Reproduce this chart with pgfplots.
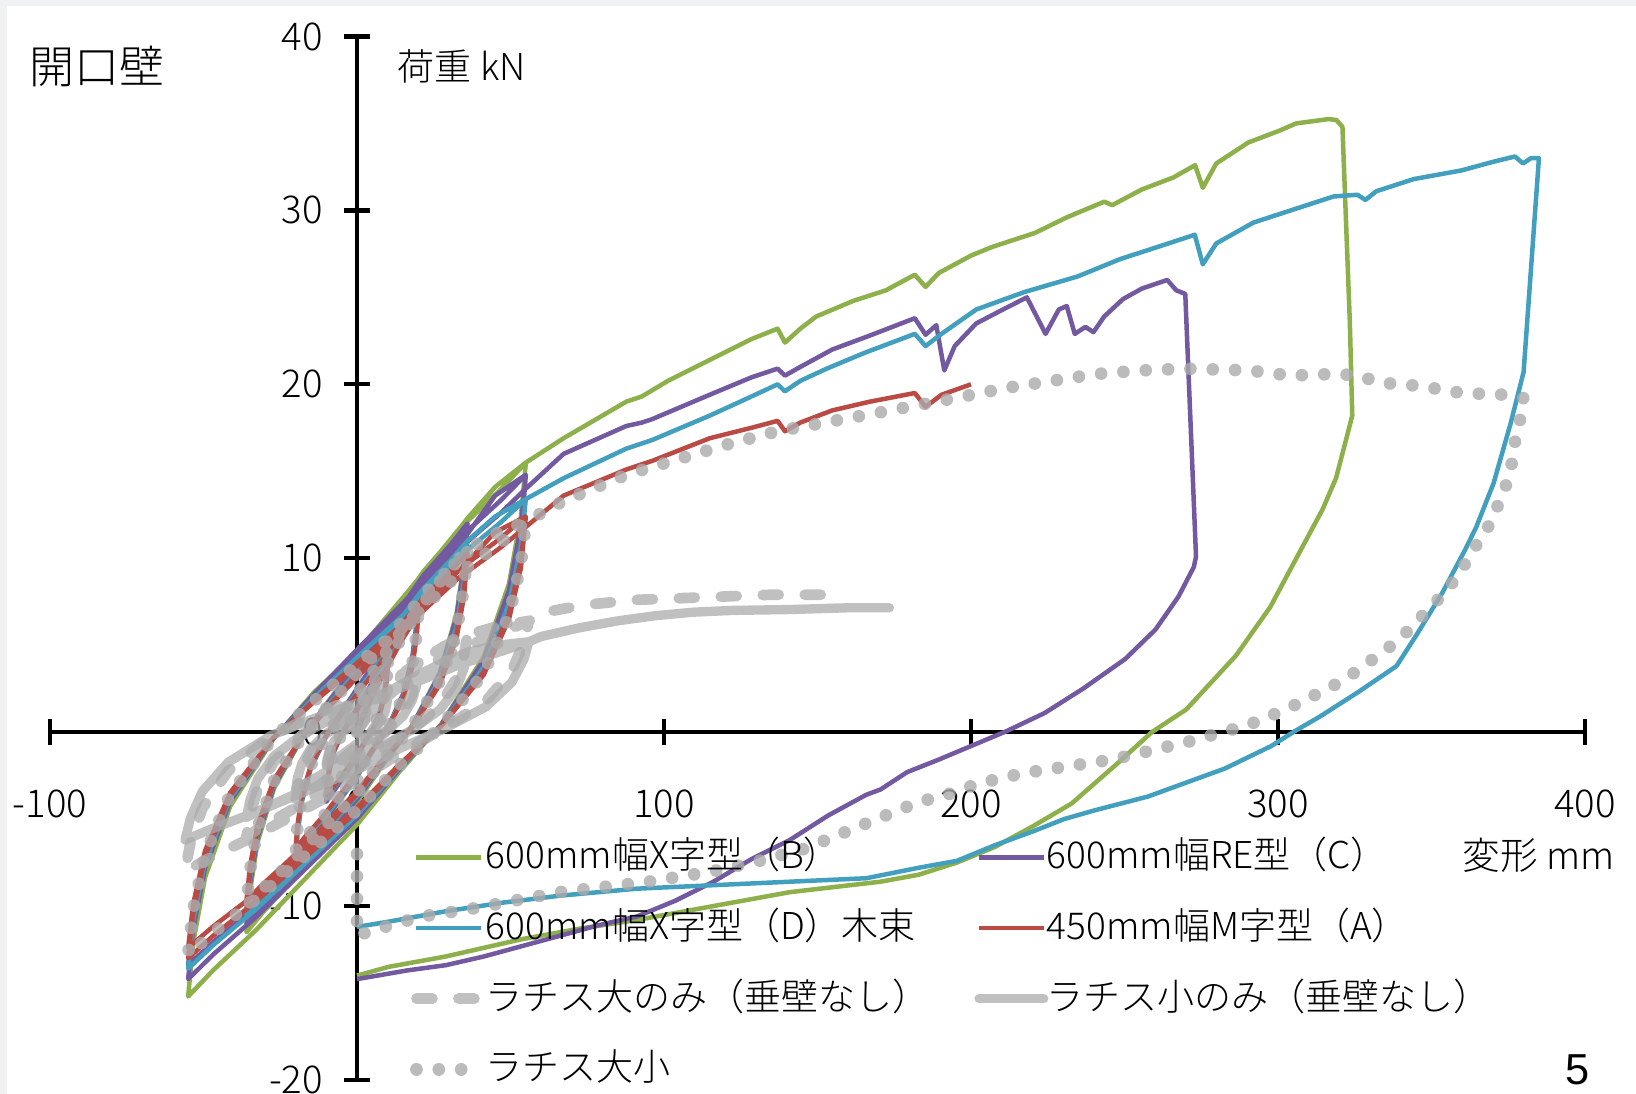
\documentclass[border=0pt]{standalone}
\usepackage{fontspec}
\setmainfont{Noto Sans CJK JP Light}
\newfontfamily\arialfont{Liberation Sans}
\usepackage{pgfplots}
\pgfplotsset{compat=1.18}
\definecolor{cB}{HTML}{8DB04A}
\definecolor{cC}{HTML}{7359A0}
\definecolor{cD}{HTML}{42A0BE}
\definecolor{cA}{HTML}{BA4A44}
\definecolor{cG}{HTML}{ABABAB}
\definecolor{bgframe}{HTML}{F0F1F3}
\begin{document}
\begin{tikzpicture}[x=1pt,y=1pt]
\path[use as bounding box] (-15,-4.2) rectangle (475.8,324);
\fill[bgframe] (-15,-4.2) rectangle (475.8,324);
\fill[white] (-12.9,-4.2) rectangle (475.8,322.2);
\begin{axis}[
  at={(0,0)}, anchor=south west, scale only axis,
  width=460.5pt, height=313.05pt,
  xmin=-100, xmax=400, ymin=-20, ymax=40,
  axis lines=middle,
  axis line style={-, line width=1.4pt, black},
  every inner x axis line/.append style={-},
  every inner y axis line/.append style={-},
  xtick={-100,0,100,200,300,400}, ytick={-20,-10,0,10,20,30,40},
  hide obscured x ticks=false, hide obscured y ticks=false,
  tick align=center, major tick length=7.8pt,
  tick style={line width=1.3pt, black},
  minor tick num=0,
  tick label style={font=\fontsize{11.5}{13}\selectfont},
  /pgf/number format/assume math mode=true,
  xticklabel style={yshift=-9.75pt},
  yticklabel style={xshift=-2.8pt},
  clip=false,
  every axis plot/.append style={line join=round},
  legend columns=2,
  legend cell align=left,
  legend image code/.code={\draw[#1] (0pt,0pt) -- (19.4pt,0pt);},
  legend style={at={(axis cs:17.3,-5.95)}, anchor=north west, draw=none, fill=none,
    inner sep=0pt, outer sep=0pt, font=\fontsize{11.1}{13}\selectfont,
    row sep=8.2pt,
    /tikz/every odd column/.append style={column sep=-0.5pt},
    /tikz/every even column/.append style={column sep=0pt},
    nodes={inner sep=0pt, text width=146.6pt, text height=10pt, text depth=3pt, anchor=west}},
]
% 600mm X (B)
\addplot[draw=cB, line width=1.35pt] coordinates {
(0,0) (5,2.3) (10,4.2)
(9.7,3.36) (9,2.31) (7.5,1.18) (5,0.13) (2.5,-0.6) (0,-1.4) (-3,-2.2) (-6,-3.0) (-8.5,-3.6) (-10,-4.0)
(-9.7,-3.2) (-9,-2.2) (-7.5,-1.12) (-5,-0.12) (-2.5,0.63) (0,1.34) (3,2.18) (6,3.15) (8.5,3.78) (10,4.2)
(15,6.0) (20,7.6)
(19.4,6.08) (18,4.18) (15,2.13) (10,0.23) (5,-1.1) (0,-2.56) (-6,-4.02) (-12,-5.48) (-17,-6.57) (-20,-7.3)
(-19.4,-5.84) (-18,-4.02) (-15,-2.04) (-10,-0.22) (-5,1.14) (0,2.43) (6,3.95) (12,5.7) (17,6.84) (20,7.6)
(28,10.1) (36,12.3)
(34.9,9.84) (32.4,6.77) (27,3.44) (18,0.37) (9,-1.73) (0,-4.03) (-10.8,-6.33) (-21.6,-8.63) (-30.6,-10.35) (-36,-11.5)
(-34.9,-9.2) (-32.4,-6.33) (-27,-3.22) (-18,-0.35) (-9,1.85) (0,3.94) (10.8,6.4) (21.6,9.23) (30.6,11.07) (36,12.3)
(45,14.1) (55,15.5)
(53.4,12.4) (49.5,8.53) (41.3,4.34) (27.5,0.47) (13.8,-2.28) (0,-5.32) (-16.5,-8.36) (-33,-11.4) (-46.8,-13.68) (-55,-15.2)
(-53.4,-12.16) (-49.5,-8.36) (-41.3,-4.26) (-27.5,-0.46) (-13.8,2.33) (0,4.6) (16.5,8.06) (33,11.63) (46.8,13.95) (55,15.5)
(67.3,16.9) (74.1,17.6) (87.7,19.0) (92.8,19.3) (101.3,20.2) (114.9,21.4) (128.5,22.6) (137,23.2) (139.4,22.4) (144.4,23.2)
(149.6,23.9) (161.7,24.8) (172.2,25.4) (181.7,26.3) (185.2,25.6) (189.5,26.4) (200,27.4) (206.9,27.9) (220.8,28.7) (231.2,29.6)
(243.4,30.5) (246,30.3) (255.6,31.2) (266,31.9) (273,32.6) (275.5,31.3) (279.9,32.7) (290.3,33.9) (300.7,34.6) (305.9,35.0)
(316.4,35.25) (319,35.2) (321,34.8) (322.3,28.7) (323.4,23.6) (324.2,18.2) (322.3,16.9) (318.9,14.6) (314.5,12.8) (307.5,10.5)
(297.5,7.2) (286.3,4.4) (270.1,1.3) (258.9,0) (247.7,-1.8) (232.8,-4.1) (220.3,-5.4) (207.8,-6.6) (195.4,-7.5) (182.9,-8.2)
(170.5,-8.6) (141,-9.2) (116.1,-10.0) (91.2,-10.8) (72.5,-11.3) (53.8,-11.9) (28.9,-12.9) (10.2,-13.5) (0,-14.0)
};
\addlegendentry{600mm幅X字型（B）}
% 600mm RE (C)
\addplot[draw=cC, line width=1.35pt] coordinates {
(0,0) (5,2.4) (10,4.3)
(9.7,3.44) (9,2.37) (7.5,1.2) (5,0.13) (2.5,-0.6) (0,-1.4) (-3,-2.2) (-6,-3.0) (-8.5,-3.6) (-10,-4.0)
(-9.7,-3.2) (-9,-2.2) (-7.5,-1.12) (-5,-0.12) (-2.5,0.65) (0,1.38) (3,2.24) (6,3.23) (8.5,3.87) (10,4.3)
(15,6.2) (20,7.8)
(19.4,6.24) (18,4.29) (15,2.18) (10,0.23) (5,-1.08) (0,-2.52) (-6,-3.96) (-12,-5.4) (-17,-6.48) (-20,-7.2)
(-19.4,-5.76) (-18,-3.96) (-15,-2.02) (-10,-0.22) (-5,1.17) (0,2.5) (6,4.06) (12,5.85) (17,7.02) (20,7.8)
(28,10.2) (36,12.0)
(34.9,9.6) (32.4,6.6) (27,3.36) (18,0.36) (9,-1.65) (0,-3.85) (-10.8,-6.05) (-21.6,-8.25) (-30.6,-9.9) (-36,-11.0)
(-34.9,-8.8) (-32.4,-6.05) (-27,-3.08) (-18,-0.33) (-9,1.8) (0,3.84) (10.8,6.24) (21.6,9.0) (30.6,10.8) (36,12.0)
(34.9,9.12) (32.4,6.27) (27,3.19) (18,0.34) (9,-1.58) (0,-3.68) (-10.8,-5.78) (-21.6,-7.88) (-30.6,-9.45) (-36,-10.5)
(-34.9,-8.4) (-32.4,-5.78) (-27,-2.94) (-18,-0.32) (-9,1.71) (0,3.65) (10.8,5.93) (21.6,8.55) (30.6,10.26) (36,11.4)
(45,13.6) (55,14.8)
(53.4,11.84) (49.5,8.14) (41.3,4.14) (27.5,0.44) (13.8,-2.13) (0,-4.97) (-16.5,-7.81) (-33,-10.65) (-46.8,-12.78) (-55,-14.2)
(-53.4,-11.36) (-49.5,-7.81) (-41.3,-3.98) (-27.5,-0.43) (-13.8,2.22) (0,4.74) (16.5,7.7) (33,11.1) (46.8,13.32) (55,14.8)
(53.4,11.2) (49.5,7.7) (41.3,3.92) (27.5,0.42) (13.8,-2.01) (0,-4.69) (-16.5,-7.37) (-33,-10.05) (-46.8,-12.06) (-55,-13.4)
(-53.4,-10.72) (-49.5,-7.37) (-41.3,-3.75) (-27.5,-0.4) (-13.8,2.1) (0,4.48) (16.5,7.28) (33,10.5) (46.8,12.6) (55,14.0)
(67.3,16.0) (87.7,17.6) (92.8,17.8) (96.2,18.0) (114.9,19.4) (128.5,20.4) (137,20.9) (139.4,20.5) (144.4,21.0) (154.8,22.0)
(167,22.8) (181.7,23.8) (185.2,22.85) (188.7,23.4) (191.3,20.8) (194.7,22.2) (201.7,23.5) (210.4,24.3) (218.2,25.0) (224.3,22.9)
(228.6,24.3) (231.2,24.5) (233.8,22.9) (237.3,23.3) (239.9,23.0) (243.4,23.9) (249.5,24.9) (255.6,25.5) (263.9,26.0) (266.9,25.4)
(269.8,25.2) (273.3,10.1) (272.6,9.5) (267.6,7.8) (260.1,5.9) (250.2,4.2) (236.5,2.5) (224,1.1) (211.6,0.06) (200,-0.8)
(189.2,-1.6) (179.2,-2.3) (170.5,-3.3) (165.9,-3.6) (153.4,-4.8) (141,-6.2) (128.5,-7.3) (116.1,-8.6) (103.6,-9.7) (91.2,-10.6)
(78.7,-11.1) (66.3,-11.7) (53.8,-12.3) (41.3,-12.9) (28.9,-13.4) (16.4,-13.7) (0,-14.2)
};
\addlegendentry{600mm幅RE型（C）}
% 600mm X (D)
\addplot[draw=cD, line width=1.35pt] coordinates {
(0,0) (5,2.2) (10,4.0)
(9.7,3.2) (9,2.2) (7.5,1.12) (5,0.12) (2.5,-0.57) (0,-1.33) (-3,-2.09) (-6,-2.85) (-8.5,-3.42) (-10,-3.8)
(-9.7,-3.04) (-9,-2.09) (-7.5,-1.06) (-5,-0.11) (-2.5,0.6) (0,1.28) (3,2.08) (6,3.0) (8.5,3.6) (10,4.0)
(15,5.7) (20,7.2)
(19.4,5.76) (18,3.96) (15,2.02) (10,0.22) (5,-1.05) (0,-2.45) (-6,-3.85) (-12,-5.25) (-17,-6.3) (-20,-7.0)
(-19.4,-5.6) (-18,-3.85) (-15,-1.96) (-10,-0.21) (-5,1.08) (0,2.3) (6,3.74) (12,5.4) (17,6.48) (20,7.2)
(28,9.3) (36,11.0)
(34.9,8.8) (32.4,6.05) (27,3.08) (18,0.33) (9,-1.58) (0,-3.68) (-10.8,-5.78) (-21.6,-7.88) (-30.6,-9.45) (-36,-10.5)
(-34.9,-8.4) (-32.4,-5.78) (-27,-2.94) (-18,-0.32) (-9,1.65) (0,3.52) (10.8,5.72) (21.6,8.25) (30.6,9.9) (36,11.0)
(45,12.4) (55,13.4)
(53.4,10.72) (49.5,7.37) (41.3,3.75) (27.5,0.4) (13.8,-2.04) (0,-4.76) (-16.5,-7.48) (-33,-10.2) (-46.8,-12.24) (-55,-13.6)
(-53.4,-10.88) (-49.5,-7.48) (-41.3,-3.81) (-27.5,-0.41) (-13.8,2.01) (0,4.29) (16.5,6.97) (33,10.05) (46.8,12.06) (55,13.4)
(67.3,14.6) (87.7,16.3) (96.2,16.8) (114.9,18.2) (128.5,19.3) (137,20.0) (139.4,19.6) (144.4,20.2) (153,20.9) (165.2,21.8)
(181.7,22.9) (185.2,22.2) (190.4,22.9) (201.7,24.3) (217.3,25.3) (234.7,26.2) (248.6,27.2) (264.3,28.1) (272.9,28.6) (275.5,26.9)
(279.9,28.1) (292,29.3) (305.9,30.1) (318.1,30.8) (325.9,30.9) (328.5,30.6) (332,31.1) (344.2,31.8) (359.8,32.3) (370.2,32.8)
(377.2,33.1) (379.8,32.7) (382.4,33.0) (385,33.0) (380,20.7) (375.7,17.7) (370.2,14.3) (364.6,11.8) (361,10.5) (353.5,8.0)
(344.8,5.5) (338.6,3.8) (326.1,2.3) (313.7,0.9) (305.5,0.06) (297.8,-0.8) (282.6,-2.1) (270.1,-2.9) (257.7,-3.7) (240.2,-4.5)
(230.3,-5.0) (220.3,-5.7) (207.8,-6.5) (195.4,-7.4) (182.9,-7.8) (165.9,-8.4) (141,-8.6) (116.1,-8.8) (91.2,-9.0) (66.3,-9.4)
(47.6,-9.8) (28.9,-10.3) (10.2,-10.9) (0,-11.2)
};
\addlegendentry{600mm幅X字型（D）木束}
% 450mm M (A)
\addplot[draw=cA, line width=1.35pt] coordinates {
(0,0) (5,2.1) (10,3.8)
(9.7,3.04) (9,2.09) (7.5,1.06) (5,0.11) (2.5,-0.56) (0,-1.3) (-3,-2.04) (-6,-2.78) (-8.5,-3.33) (-10,-3.7)
(-9.7,-2.96) (-9,-2.04) (-7.5,-1.04) (-5,-0.11) (-2.5,0.57) (0,1.22) (3,1.98) (6,2.85) (8.5,3.42) (10,3.8)
(15,5.4) (20,6.8)
(19.4,5.44) (18,3.74) (15,1.9) (10,0.2) (5,-1.01) (0,-2.35) (-6,-3.69) (-12,-5.03) (-17,-6.03) (-20,-6.7)
(-19.4,-5.36) (-18,-3.69) (-15,-1.88) (-10,-0.2) (-5,1.02) (0,2.18) (6,3.54) (12,5.1) (17,6.12) (20,6.8)
(28,8.8) (36,10.3)
(34.9,8.24) (32.4,5.67) (27,2.88) (18,0.31) (9,-1.53) (0,-3.57) (-10.8,-5.61) (-21.6,-7.65) (-30.6,-9.18) (-36,-10.2)
(-34.9,-8.16) (-32.4,-5.61) (-27,-2.86) (-18,-0.31) (-9,1.55) (0,3.3) (10.8,5.36) (21.6,7.73) (30.6,9.27) (36,10.3)
(34.9,7.84) (32.4,5.39) (27,2.74) (18,0.29) (9,-1.46) (0,-3.4) (-10.8,-5.34) (-21.6,-7.28) (-30.6,-8.73) (-36,-9.7)
(-34.9,-7.76) (-32.4,-5.34) (-27,-2.72) (-18,-0.29) (-9,1.47) (0,3.14) (10.8,5.1) (21.6,7.35) (30.6,8.82) (36,9.8)
(45,11.5) (55,12.4)
(53.4,9.92) (49.5,6.82) (41.3,3.47) (27.5,0.37) (13.8,-1.95) (0,-4.55) (-16.5,-7.15) (-33,-9.75) (-46.8,-11.7) (-55,-13.0)
(-53.4,-10.4) (-49.5,-7.15) (-41.3,-3.64) (-27.5,-0.39) (-13.8,1.86) (0,3.97) (16.5,6.45) (33,9.3) (46.8,11.16) (55,12.4)
(53.4,9.44) (49.5,6.49) (41.3,3.3) (27.5,0.35) (13.8,-1.86) (0,-4.34) (-16.5,-6.82) (-33,-9.3) (-46.8,-11.16) (-55,-12.4)
(-53.4,-9.92) (-49.5,-6.82) (-41.3,-3.47) (-27.5,-0.37) (-13.8,1.77) (0,3.78) (16.5,6.14) (33,8.85) (46.8,10.62) (55,11.8)
(67.3,13.6) (87.7,15.1) (96.2,15.6) (114.9,16.9) (128.5,17.5) (137,17.9) (139.4,17.3) (144.4,17.8) (154.8,18.5) (167,19.0)
(181.7,19.5) (185.2,18.7) (190.4,19.4) (200,20.0)
};
\addlegendentry{450mm幅M字型（A）}
% lattice large only
\addplot[draw=cG, opacity=0.75, line width=3.2pt, line cap=round, dash pattern=on 4.8pt off 7.8pt] coordinates {
(0,0) (5,1.5) (10,2.5)
(9.7,2.0) (9,1.38) (7.5,0.7) (5,0.08) (2.5,-0.35) (0,-0.81) (-3,-1.27) (-6,-1.73) (-8.5,-2.07) (-10,-2.3)
(-9.7,-1.84) (-9,-1.27) (-7.5,-0.64) (-5,-0.07) (-2.5,0.38) (0,0.8) (3,1.3) (6,1.88) (8.5,2.25) (10,2.5)
(15,3.4) (20,4.0)
(19.4,3.2) (18,2.2) (15,1.12) (10,0.12) (5,-0.6) (0,-1.4) (-6,-2.2) (-12,-3.0) (-17,-3.6) (-20,-4.0)
(-19.4,-3.2) (-18,-2.2) (-15,-1.12) (-10,-0.12) (-5,0.6) (0,1.28) (6,2.08) (12,3.0) (17,3.6) (20,4.0)
(28,4.9) (36,5.6)
(34.9,4.48) (32.4,3.08) (27,1.57) (18,0.17) (9,-0.9) (0,-2.1) (-10.8,-3.3) (-21.6,-4.5) (-30.6,-5.4) (-36,-6.0)
(-34.9,-4.8) (-32.4,-3.3) (-27,-1.68) (-18,-0.18) (-9,0.84) (0,1.79) (10.8,2.91) (21.6,4.2) (30.6,5.04) (36,5.6)
(46,6.1) (56,6.4)
(54.3,5.12) (50.4,3.52) (42,1.79) (28,0.19) (14,-1.2) (0,-2.8) (-16.8,-4.4) (-33.6,-6.0) (-47.6,-7.2) (-56,-8.0)
(-54.3,-6.4) (-50.4,-4.4) (-42,-2.24) (-28,-0.24) (-14,0.96) (0,2.05) (16.8,3.33) (33.6,4.8) (47.6,5.76) (56,6.4)
(61.3,6.9) (73.7,7.3) (89.9,7.6) (104.9,7.7) (119.8,7.8) (134.7,7.9) (154.7,7.9)
};
\addlegendentry{ラチス大のみ（垂壁なし）}
% lattice small only
\addplot[draw=cG, opacity=0.75, line width=2.8pt, line cap=round] coordinates {
(0,0) (5,1.2) (10,2.0)
(9.7,1.6) (9,1.1) (7.5,0.56) (5,0.06) (2.5,-0.29) (0,-0.67) (-3,-1.05) (-6,-1.43) (-8.5,-1.71) (-10,-1.9)
(-9.7,-1.52) (-9,-1.05) (-7.5,-0.53) (-5,-0.06) (-2.5,0.3) (0,0.64) (3,1.04) (6,1.5) (8.5,1.8) (10,2.0)
(15,2.8) (20,3.3)
(19.4,2.64) (18,1.82) (15,0.92) (10,0.1) (5,-0.5) (0,-1.16) (-6,-1.82) (-12,-2.48) (-17,-2.97) (-20,-3.3)
(-19.4,-2.64) (-18,-1.82) (-15,-0.92) (-10,-0.1) (-5,0.5) (0,1.06) (6,1.72) (12,2.48) (17,2.97) (20,3.3)
(28,4.0) (36,4.6)
(34.9,3.68) (32.4,2.53) (27,1.29) (18,0.14) (9,-0.74) (0,-1.72) (-10.8,-2.7) (-21.6,-3.68) (-30.6,-4.41) (-36,-4.9)
(-34.9,-3.92) (-32.4,-2.7) (-27,-1.37) (-18,-0.15) (-9,0.69) (0,1.47) (10.8,2.39) (21.6,3.45) (30.6,4.14) (36,4.6)
(46,5.0) (56,5.2)
(54.3,4.16) (50.4,2.86) (42,1.46) (28,0.16) (14,-0.93) (0,-2.17) (-16.8,-3.41) (-33.6,-4.65) (-47.6,-5.58) (-56,-6.2)
(-54.3,-4.96) (-50.4,-3.41) (-42,-1.74) (-28,-0.19) (-14,0.78) (0,1.66) (16.8,2.7) (33.6,3.9) (47.6,4.68) (56,5.2)
(60,5.5) (72.5,6.0) (84.9,6.4) (97.4,6.7) (109.8,6.9) (122.3,7.0) (141,7.05) (159.7,7.15) (173.4,7.15)
};
\addlegendentry{ラチス小のみ（垂壁なし）}
% lattice large+small
\addplot[draw=cG, opacity=0.8, line width=3.8pt, line cap=round, dash pattern=on 0.01pt off 6.7pt] coordinates {
(0,0) (5,2.2) (10,4.0)
(9.7,3.2) (9,2.2) (7.5,1.12) (5,0.12) (2.5,-0.57) (0,-1.33) (-3,-2.09) (-6,-2.85) (-8.5,-3.42) (-10,-3.8)
(-9.7,-3.04) (-9,-2.09) (-7.5,-1.06) (-5,-0.11) (-2.5,0.6) (0,1.28) (3,2.08) (6,3.0) (8.5,3.6) (10,4.0)
(15,5.6) (20,7.0)
(19.4,5.6) (18,3.85) (15,1.96) (10,0.21) (5,-1.02) (0,-2.38) (-6,-3.74) (-12,-5.1) (-17,-6.12) (-20,-6.8)
(-19.4,-5.44) (-18,-3.74) (-15,-1.9) (-10,-0.2) (-5,1.05) (0,2.24) (6,3.64) (12,5.25) (17,6.3) (20,7.0)
(28,8.9) (36,10.5)
(34.9,8.4) (32.4,5.78) (27,2.94) (18,0.32) (9,-1.5) (0,-3.5) (-10.8,-5.5) (-21.6,-7.5) (-30.6,-9.0) (-36,-10.0)
(-34.9,-8.0) (-32.4,-5.5) (-27,-2.8) (-18,-0.3) (-9,1.58) (0,3.36) (10.8,5.46) (21.6,7.88) (30.6,9.45) (36,10.5)
(45,11.4) (55,12.1)
(53.4,9.68) (49.5,6.66) (41.3,3.39) (27.5,0.36) (13.8,-1.92) (0,-4.48) (-16.5,-7.04) (-33,-9.6) (-46.8,-11.52) (-55,-12.8)
(-53.4,-10.24) (-49.5,-7.04) (-41.3,-3.58) (-27.5,-0.38) (-13.8,1.82) (0,3.87) (16.5,6.29) (33,9.08) (46.8,10.89) (55,12.1)
(67.3,13.3) (87.7,14.8) (104.7,15.7) (121.7,16.6) (137,17.3) (146.1,17.6) (167.8,18.3) (182.6,18.8) (197.4,19.3) (211.8,19.8)
(226.4,20.2) (241.1,20.6) (255.9,20.8) (269.8,20.9) (290.5,20.8) (304.2,20.5) (319,20.6) (326.3,20.5) (333,20.1) (346.4,19.9)
(359.8,19.5) (374.1,19.4) (380,19.2) (378.9,18.0) (377.2,16.7) (376,15.3) (374.1,14.1) (371.3,12.9) (367.9,11.6) (364,10.6)
(360,9.4) (356,8.4) (351,7.4) (346,6.5) (340.5,5.5) (334.9,4.7) (328.6,3.9) (322.4,3.1) (316.2,2.5) (309.3,1.9)
(302.5,1.3) (295.6,0.8) (288.8,0.3) (281.3,0) (274.5,-0.4) (267,-0.7) (260.1,-1.0) (252.7,-1.3) (245.2,-1.6) (237.7,-1.8)
(230.3,-2.0) (222.8,-2.2) (216,-2.4) (208.5,-2.7) (201.6,-3.0) (194.1,-3.5) (187.3,-3.8) (180.4,-4.2) (173.4,-4.7) (166.5,-5.2)
(159.7,-5.7) (152.8,-6.2) (146,-6.7) (131,-7.4) (116,-8.0) (95,-8.6) (66,-9.2) (51,-9.7) (36,-10.2) (21,-10.6)
(7,-11.3) (0,-11.7) (0,-9.0) (0,-6.3)
};
\addlegendentry{ラチス大小}
\node[font=\fontsize{13.5}{15}\selectfont] at (axis cs:-84.7,38.3) {開口壁};
\node[anchor=west, font=\fontsize{11.1}{13}\selectfont] at (axis cs:9.5,38.3) {荷重 kN};
\node[font=\fontsize{11.3}{13}\selectfont] at (axis cs:384.8,-7.1) {変形 mm};
\node[font=\arialfont\fontsize{13}{15}\selectfont] at (axis cs:397.7,-19.4) {5};
\end{axis}
\end{tikzpicture}
\end{document}
